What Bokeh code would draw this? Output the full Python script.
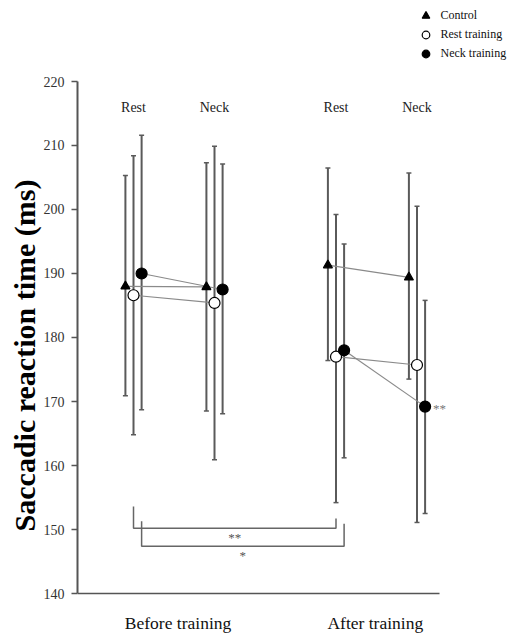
from bokeh.plotting import figure
from bokeh.layouts import column
from bokeh.models import (Range1d, FixedTicker, Whisker, TeeHead, ColumnDataSource,
                          Legend, LegendItem, Label)
from bokeh.embed import file_html
from bokeh.resources import INLINE
from bokeh.core.properties import value

# ---------------- data ----------------
conditions = ["Rest", "Neck", "Rest", "Neck"]
phases = ["Before training", "After training"]
positions = [2, 4, 7, 9]          # Rest/Neck before, Rest/Neck after
phase_label_x = [3.1, 7.97]

control_mean = [188.0, 187.9, 191.3, 189.4]
control_upper = [205.3, 207.3, 206.5, 205.7]
control_lower = [170.9, 168.5, 176.4, 173.5]

rest_mean = [186.6, 185.4, 177.0, 175.7]
rest_upper = [208.4, 209.9, 199.2, 200.5]
rest_lower = [164.8, 160.9, 154.2, 151.1]

neck_mean = [190.0, 187.5, 178.0, 169.2]
neck_upper = [211.6, 207.1, 194.6, 185.8]
neck_lower = [168.7, 168.1, 161.2, 152.5]

series_names = ["Control", "Rest training", "Neck training"]

# significance brackets
bracket_series = [1, 2]
bracket_from = [0, 0]
bracket_to = [2, 2]
bracket_top_left = [153.6, 151.3]
bracket_top_right = [151.7, 150.9]
bracket_bottom = [150.2, 147.4]
bracket_labels = ["**", "*"]

y_ticks = list(range(140, 221, 10))

# ---------------- layout constants ----------------
offsets = [-0.2, 0.0, 0.2]
SERIF = "Liberation Serif"
X_START, X_END = 0.617, 11.284
AXIS_X_END = 9.556
Y_START, Y_END = 133.594, 220.781
LABEL_Y = 215.9
PHASE_LABEL_Y = 137.03
W, H_TOP, H_MAIN = 509, 76, 558
NAN = float("nan")

markers = ["triangle", "circle", "circle"]
fills = ["black", "white", "black"]
sizes = [9, 11, 11]

# ---------------- legend strip ----------------
lg = figure(width=W, height=H_TOP, x_range=Range1d(0, 1), y_range=Range1d(0, 1),
            output_backend="svg", toolbar_location=None,
            x_axis_location=None, y_axis_location=None,
            min_border_left=0, min_border_right=0, min_border_top=0, min_border_bottom=0)
lg.grid.visible = False
lg.outline_line_color = None
legend_renderers = []
for k in range(3):
    src = ColumnDataSource(dict(x=[NAN], y=[NAN]))
    r = lg.scatter("x", "y", source=src, marker=markers[k], size=sizes[k],
                   fill_color=fills[k], line_color="black", line_width=1.2)
    legend_renderers.append(r)
legend = Legend(items=[LegendItem(label=series_names[k], renderers=[legend_renderers[k]])
                       for k in range(3)],
                location=(338.5, 13.5), orientation="vertical",
                glyph_width=19, glyph_height=19, spacing=0, padding=0, margin=0,
                label_standoff=6, label_height=19,
                label_text_font=SERIF, label_text_font_size="12px",
                label_text_color="#111111",
                border_line_color=None, background_fill_alpha=0)
lg.add_layout(legend)

# ---------------- main chart ----------------
p = figure(width=W, height=H_MAIN, x_range=Range1d(X_START, X_END), y_range=Range1d(Y_START, Y_END),
           output_backend="svg", toolbar_location=None, x_axis_location=None,
           min_border_left=77, min_border_right=0, min_border_top=0, min_border_bottom=0)
p.grid.visible = False
p.outline_line_color = None

# y axis
p.yaxis.ticker = FixedTicker(ticks=y_ticks)
p.yaxis.bounds = (y_ticks[0], y_ticks[-1])
p.yaxis.axis_label = "Saccadic reaction time (ms)"
p.yaxis.axis_label_text_font = SERIF
p.yaxis.axis_label_text_font_style = "bold"
p.yaxis.axis_label_text_font_size = "30px"
p.yaxis.axis_label_text_color = "black"
p.yaxis.axis_label_standoff = 0
p.yaxis.major_label_text_font = SERIF
p.yaxis.major_label_text_font_size = "14px"
p.yaxis.major_label_text_color = "#333333"
p.yaxis.major_label_standoff = 7
p.yaxis.major_tick_out = 6
p.yaxis.major_tick_in = 0
p.yaxis.minor_tick_line_color = None
p.yaxis.axis_line_color = "#555555"
p.yaxis.axis_line_width = 2
p.yaxis.major_tick_line_color = "#555555"
p.yaxis.major_tick_line_width = 1.5

# x baseline (axis line) and phase labels
p.line(x=[X_START, AXIS_X_END], y=[y_ticks[0], y_ticks[0]], line_color="#555555", line_width=1.5)
p.text(x=phase_label_x, y=[PHASE_LABEL_Y] * 2, text=phases, text_font=value(SERIF),
       text_font_size="17.5px", text_color="#111111", text_align="center",
       text_baseline="top")

means = [control_mean, rest_mean, neck_mean]
uppers = [control_upper, rest_upper, neck_upper]
lowers = [control_lower, rest_lower, neck_lower]

for k in range(3):
    xs = [positions[i] + offsets[k] for i in range(4)]
    p.multi_line(xs=[[xs[0], xs[1]], [xs[2], xs[3]]],
                 ys=[[means[k][0], means[k][1]], [means[k][2], means[k][3]]],
                 line_color="#8a8a8a", line_width=1.2)
    src = ColumnDataSource(dict(x=xs, up=uppers[k], lo=lowers[k]))
    w = Whisker(source=src, base="x", upper="up", lower="lo", dimension="height",
                line_color="#5a5a5a", line_width=2,
                upper_head=TeeHead(size=5, line_color="#5a5a5a", line_width=1.5),
                lower_head=TeeHead(size=5, line_color="#5a5a5a", line_width=1.5))
    p.add_layout(w)

for k in range(3):
    xs = [positions[i] + offsets[k] for i in range(4)]
    src = ColumnDataSource(dict(x=xs, m=means[k]))
    p.scatter("x", "m", source=src, marker=markers[k], size=sizes[k],
              fill_color=fills[k], line_color="black", line_width=1.2)

# condition labels on top
p.text(x=positions, y=[LABEL_Y] * 4, text=conditions, text_font=value(SERIF),
       text_font_size="14px", text_color="#222222", text_align="center",
       text_baseline="middle")

# brackets
for b in range(2):
    xl = positions[bracket_from[b]] + offsets[bracket_series[b]]
    xr = positions[bracket_to[b]] + offsets[bracket_series[b]]
    p.line(x=[xl, xl, xr, xr],
           y=[bracket_top_left[b], bracket_bottom[b], bracket_bottom[b], bracket_top_right[b]],
           line_color="#666666", line_width=1.5)
    p.text(x=[(xl + xr) / 2], y=[bracket_bottom[b]], text=[bracket_labels[b]],
           text_font=value(SERIF), text_font_size="13px", text_color="#555555",
           text_align="center", text_baseline="top", y_offset=2)

# significance mark next to neck training after, neck
p.add_layout(Label(x=positions[3] + offsets[2], y=neck_mean[3], x_offset=8, y_offset=-1.5,
                   text="**", text_font=SERIF, text_font_size="13px",
                   text_color="#777777", text_baseline="middle", text_align="left"))

layout = column(lg, p, spacing=0)
open("out.html", "w").write(file_html(layout, INLINE))
